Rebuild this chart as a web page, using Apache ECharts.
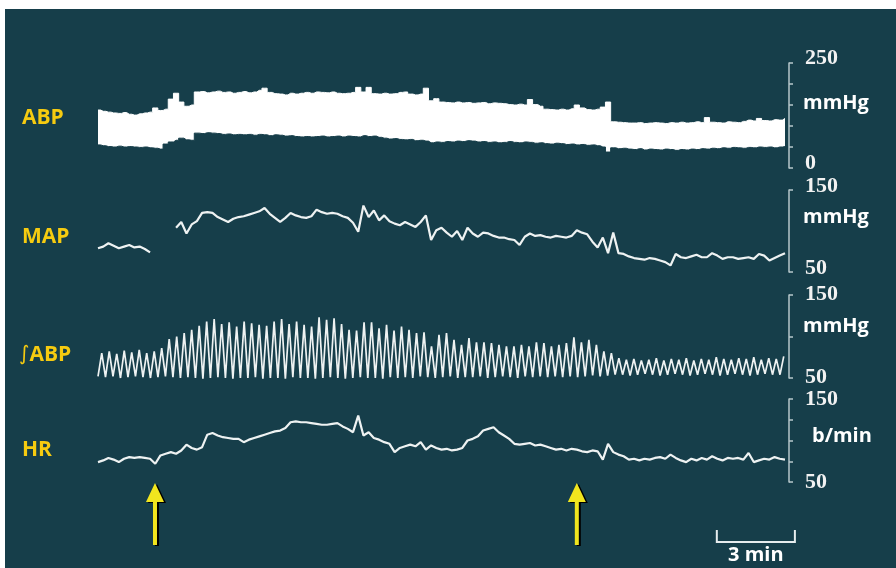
<!DOCTYPE html>
<html>
<head>
<meta charset="utf-8">
<title>ABP, MAP, integrated ABP and HR recording</title>
<script src="https://cdn.jsdelivr.net/npm/echarts@6.0.0/dist/echarts.min.js"></script>
<style>
  html, body { margin: 0; padding: 0; background: #ffffff; }
  #chart { width: 896px; height: 568px; }
</style>
</head>
<body>
<div id="chart"></div>
<script>
// Sampling interval of the slow traces, in minutes
const STEP_MIN = 0.2;
// Length of one integrator cycle of the ABP signal, in minutes
const CYCLE_MIN = 0.288;
const TIME_MAX = 26.4;

// Arterial blood pressure envelope (mmHg): systolic upper edge, diastolic lower edge
const abpSystolic = [
  138,135,133,131,130,132,128,126,129,131,
  133,143,137,140,164,178,157,147,150,181,
  182,179,181,183,180,181,178,180,182,179,
  181,185,190,180,177,176,174,178,176,178,
  180,178,181,180,179,181,178,177,178,180,
  192,181,192,177,176,178,176,177,180,181,
  176,174,176,190,160,165,157,156,155,157,
  155,156,154,155,156,153,155,154,153,151,
  150,152,150,163,151,147,140,139,138,140,
  138,141,150,143,139,138,140,145,157,110,
  109,108,107,107,108,106,107,108,107,106,
  108,107,109,107,108,110,108,120,109,108,
  107,110,109,108,111,114,112,118,113,112,
  115,114,118
];
const abpDiastolic = [
  55,53,51,50,52,50,51,50,49,50,
  48,47,45,57,62,66,71,67,66,83,
  82,84,83,82,80,81,79,80,79,80,
  78,80,79,77,79,78,76,77,75,74,
  75,74,75,76,74,75,76,74,76,75,
  74,77,75,76,73,71,69,70,68,67,
  68,65,66,64,60,62,61,63,62,64,
  63,65,64,62,63,61,62,60,61,63,
  61,60,62,61,59,60,58,57,59,58,
  56,57,55,56,54,55,53,50,38,48,
  46,47,45,44,46,43,45,44,43,45,
  44,42,44,43,45,44,46,45,47,46,
  48,47,49,48,47,49,48,50,49,50,
  48,50,51
];

// Mean arterial pressure (mmHg); null where the recording drops out
const mapValues = [
  79,81,85,82,79,81,83,80,81,78,
  74,null,null,null,null,104,111,97,108,112,
  122,123,122,117,114,111,115,117,118,120,
  122,124,128,121,116,111,116,122,119,117,
  116,118,126,123,121,122,121,118,116,110,
  99,131,117,125,113,119,112,109,107,111,
  108,105,111,119,89,101,104,98,93,100,
  89,104,97,93,98,97,94,92,92,90,
  89,83,93,97,94,95,93,92,94,93,
  92,94,101,98,96,87,80,92,73,98,
  73,72,69,67,66,65,67,66,64,62,
  58,72,68,67,69,71,68,68,73,70,
  66,68,68,66,67,68,66,72,70,64,
  67,70,73
];

// Integrated ABP (mmHg): value at the top and at the reset of each cycle
const intAbpPeaks = [
  80,82,79,83,81,84,80,82,86,97,
  100,104,108,113,118,121,115,117,112,118,
  116,114,113,118,121,115,118,114,112,123,
  120,122,115,108,107,117,117,110,114,107,
  112,108,104,105,88,102,104,96,90,98,
  93,93,92,90,88,88,90,88,93,92,
  88,90,92,99,93,96,90,82,80,74,
  72,73,71,72,74,71,73,72,74,71,
  73,72,75,73,72,74,73,75,72,74,
  73,76
];
const intAbpTroughs = [
  52,51,52,50,51,52,51,50,51,52,
  51,50,51,50,49,50,51,50,49,50,
  50,51,49,50,50,49,51,50,50,49,
  50,51,50,49,50,51,50,50,49,51,
  50,51,50,52,51,50,51,52,50,51,
  51,52,50,51,52,51,50,52,51,52,
  51,52,51,52,51,52,53,52,53,54,
  54,53,54,55,54,53,54,55,54,53,
  54,55,54,53,54,55,54,53,54,55,
  54,54
];

// Heart rate (beats/min)
const hrValues = [
  74,76,79,77,74,78,80,79,80,79,
  78,72,82,84,86,84,88,95,91,89,
  92,107,109,106,104,103,102,102,98,101,
  103,105,107,109,111,112,115,122,123,122,
  122,121,120,119,119,120,121,117,114,110,
  130,106,110,103,101,98,96,86,91,93,
  95,93,98,89,94,91,89,90,88,89,
  91,100,102,105,112,114,116,110,106,102,
  96,95,96,97,94,95,93,91,89,90,
  88,90,89,87,86,88,87,77,96,86,
  83,81,77,78,76,78,77,79,80,78,
  83,79,76,74,78,76,79,77,81,78,
  76,79,78,79,77,85,74,76,78,77,
  80,78,77
];

// Axis ranges, labelled values and tick positions
const abpRange = [0, 250];   const abpLabels = [0, 250];  const abpTicks = [0, 50, 100, 150, 200, 250];
const mapRange = [50, 150];  const mapLabels = [50, 150]; const mapTicks = [50, 150];
const intRange = [50, 150];  const intLabels = [50, 150]; const intTicks = [50, 100, 150];
const hrRange = [50, 150];   const hrLabels = [50, 150];  const hrTicks = [50, 75, 100, 125, 150];

const traceNames = ['ABP', 'MAP', '∫ABP', 'HR'];
const unitNames = ['mmHg', 'mmHg', 'mmHg', 'b/min'];

// Stimulus onset / offset (minutes) and the time scale bar
const eventTimes = [2.19, 18.4];
const scaleBarStart = 23.78;
const scaleBarMinutes = 3;
const scaleBarLabel = '3 min';

const BG = '#163e4a';
const TRACE = '#eef2f2';
const AXIS = '#b7c7cb';
const LABEL_YELLOW = '#f6cb10';
const ARROW_YELLOW = '#f1e51e';

const sampled = vals => vals.map((v, i) => [+(i * STEP_MIN).toFixed(3), v]);

const intAbpData = [];
intAbpPeaks.forEach((p, k) => {
  intAbpData.push([k * CYCLE_MIN, intAbpTroughs[k]]);
  intAbpData.push([k * CYCLE_MIN + CYCLE_MIN / 2, p]);
});

const panels = [
  { top: 63, height: 105 },
  { top: 190, height: 82 },
  { top: 295, height: 83 },
  { top: 399, height: 83 }
];

// labelLift / nameLift: how far (px) the tick labels / unit name sit above their anchor
function yAxisFor(idx, range, labels, ticks, labelLift, nameLift, nameGap) {
  return {
    gridIndex: idx,
    type: 'value',
    position: 'right',
    offset: 4,
    min: range[0],
    max: range[1],
    axisLine: { show: true, onZero: false, lineStyle: { color: AXIS, width: 1.5 } },
    axisTick: { show: true, customValues: ticks, length: 4, lineStyle: { color: AXIS, width: 1.5 } },
    splitLine: { show: false },
    axisLabel: {
      customValues: labels,
      margin: 16,
      color: '#f2f2f2',
      fontFamily: 'Liberation Serif',
      fontWeight: 'bold',
      fontSize: 22,
      verticalAlign: labelLift > 0 ? 'bottom' : 'middle',
      lineHeight: labelLift > 0 ? labelLift * 2 : 24
    },
    name: unitNames[idx],
    nameLocation: 'middle',
    nameRotate: 0,
    nameGap: nameGap,
    nameMoveOverlap: false,
    nameTextStyle: {
      color: '#ffffff',
      fontFamily: 'Open Sans',
      fontWeight: 'bold',
      fontSize: 20,
      align: 'left',
      verticalAlign: 'bottom',
      lineHeight: nameLift * 2
    }
  };
}

const chart = echarts.init(document.getElementById('chart'), null, { renderer: 'canvas' });

const option = {
  backgroundColor: BG,
  animation: false,
  grid: panels.map(p => ({
    left: 98, width: 687, top: p.top, height: p.height, outerBoundsMode: 'none', containLabel: false
  })),
  xAxis: panels.map((p, i) => ({
    gridIndex: i, type: 'value', min: 0, max: TIME_MAX, show: false
  })),
  yAxis: [
    yAxisFor(0, abpRange, abpLabels, abpTicks, 5, 12, 14),
    yAxisFor(1, mapRange, mapLabels, mapTicks, 4, 14, 14),
    yAxisFor(2, intRange, intLabels, intTicks, 1, 10, 14),
    yAxisFor(3, hrRange, hrLabels, hrTicks, 0, 4, 23)
  ],
  series: [
    // systolic edge filled white down to the axis floor ...
    {
      name: 'ABP systolic', type: 'line', xAxisIndex: 0, yAxisIndex: 0,
      data: sampled(abpSystolic), showSymbol: false, step: 'middle',
      lineStyle: { color: '#ffffff', width: 1 },
      areaStyle: { color: '#ffffff', opacity: 1, origin: 'start' },
      z: 2
    },
    // ... and the region below the diastolic edge painted back in background colour
    {
      name: 'ABP diastolic', type: 'line', xAxisIndex: 0, yAxisIndex: 0,
      data: sampled(abpDiastolic), showSymbol: false, step: 'middle',
      lineStyle: { color: BG, width: 1 },
      areaStyle: { color: BG, opacity: 1, origin: 'start' },
      z: 3
    },
    {
      name: 'MAP', type: 'line', xAxisIndex: 1, yAxisIndex: 1,
      data: sampled(mapValues), showSymbol: false, connectNulls: false,
      lineStyle: { color: TRACE, width: 2.2 }
    },
    {
      name: '∫ABP', type: 'line', xAxisIndex: 2, yAxisIndex: 2,
      data: intAbpData, showSymbol: false,
      lineStyle: { color: TRACE, width: 1.7 }
    },
    {
      name: 'HR', type: 'line', xAxisIndex: 3, yAxisIndex: 3,
      data: sampled(hrValues), showSymbol: false,
      lineStyle: { color: TRACE, width: 2.2 }
    }
  ]
};
chart.setOption(option);

// Overlays: page border, trace names, event arrows, time scale bar
const labelY = [118, 237, 355, 450];
const graphics = [
  { type: 'rect', shape: { x: 0, y: 0, width: 896, height: 9 }, style: { fill: '#ffffff' }, z: 100 },
  { type: 'rect', shape: { x: 0, y: 0, width: 5, height: 568 }, style: { fill: '#ffffff' }, z: 100 }
];

traceNames.forEach((name, i) => {
  const isIntegral = name.charAt(0) === '∫';
  graphics.push({
    type: 'text', x: isIntegral ? 19 : 22, y: labelY[i], z: 50,
    style: isIntegral ? {
      text: '{i|∫}{b|' + name.slice(1) + '}',
      verticalAlign: 'middle',
      rich: {
        i: { fill: LABEL_YELLOW, fontFamily: 'DejaVu Sans', fontSize: 20, fontWeight: 'normal' },
        b: { fill: LABEL_YELLOW, fontFamily: 'Open Sans', fontSize: 21, fontWeight: 'bold' }
      }
    } : {
      text: name, fill: LABEL_YELLOW, fontFamily: 'Open Sans', fontSize: 21,
      fontWeight: 'bold', verticalAlign: 'middle'
    }
  });
});

function arrowPoints(x, dx, dy) {
  const tip = 483 + dy, base = 502 + dy, tail = 545 + dy;
  x += dx;
  return [[x, tip], [x + 9, base], [x + 2, base], [x + 2, tail], [x - 2, tail], [x - 2, base], [x - 9, base]];
}
eventTimes.forEach(t => {
  const px = chart.convertToPixel({ xAxisIndex: 3 }, t);
  graphics.push({ type: 'polygon', z: 40, shape: { points: arrowPoints(px, 2, 1) }, style: { fill: '#000000' } });
  graphics.push({ type: 'polygon', z: 41, shape: { points: arrowPoints(px, 0, 0) }, style: { fill: ARROW_YELLOW } });
});

const sx1 = chart.convertToPixel({ xAxisIndex: 3 }, scaleBarStart);
const sx2 = chart.convertToPixel({ xAxisIndex: 3 }, scaleBarStart + scaleBarMinutes);
graphics.push({
  type: 'polyline', z: 40,
  shape: { points: [[sx1, 530], [sx1, 542], [sx2, 542], [sx2, 530]] },
  style: { stroke: '#e6ecee', lineWidth: 2, fill: null }
});
graphics.push({
  type: 'text', x: (sx1 + sx2) / 2, y: 555, z: 40,
  style: {
    text: scaleBarLabel, fill: '#ffffff', fontFamily: 'Open Sans', fontSize: 20,
    fontWeight: 'bold', align: 'center', verticalAlign: 'middle'
  }
});

chart.setOption({ graphic: graphics });
</script>
</body>
</html>
